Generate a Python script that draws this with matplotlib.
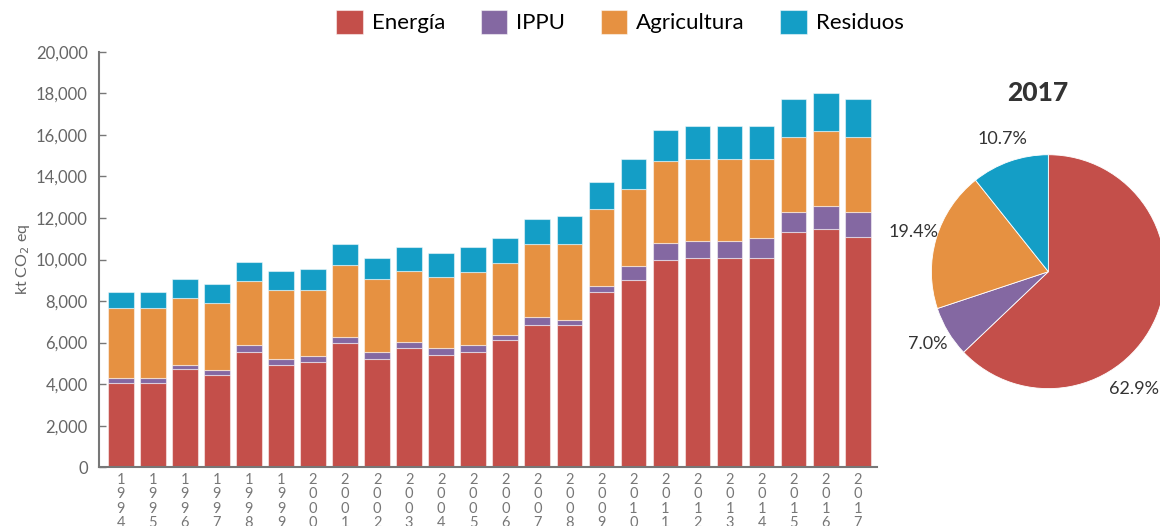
import matplotlib
matplotlib.use("Agg")
import matplotlib.pyplot as plt
import numpy as np

plt.rcParams['font.family'] = ['Lato', 'DejaVu Sans']

years = [str(y) for y in range(1994, 2018)]
energia = [4070, 4070, 4744, 4424, 5561, 4920, 5080, 5963, 5224, 5754, 5417, 5561,
           6124, 6832, 6832, 8450, 9013, 9976, 10087, 10087, 10087, 11338, 11468, 11069]
ippu = [240, 240, 176, 241, 308, 304, 289, 306, 323, 274, 322, 308,
        241, 400, 271, 259, 674, 818, 804, 804, 948, 949, 1093, 1218]
agricultura = [3370, 3370, 3211, 3241, 3081, 3308, 3163, 3466, 3499, 3433, 3418, 3544,
               3481, 3500, 3629, 3708, 3693, 3963, 3962, 3962, 3818, 3611, 3626, 3611]
residuos = [770, 770, 930, 914, 915, 929, 1025, 1011, 1011, 1156, 1140, 1204,
            1204, 1203, 1348, 1329, 1473, 1478, 1559, 1559, 1559, 1830, 1815, 1830]

sectors = ['Energía', 'IPPU', 'Agricultura', 'Residuos']
colors = ['#C44F4A', '#8468A2', '#E69141', '#149EC6']

pie_year = '2017'
pie_shares = [62.9, 7.0, 19.4, 10.7]

fig = plt.figure(figsize=(11.6, 5.26), dpi=100)

# stacked bars
ax = fig.add_axes([0.0853, 0.1118, 0.6707, 0.7897])
x = np.arange(len(years))
series = [energia, ippu, agricultura, residuos]
bottom = np.zeros(len(years))
for vals, col, name in zip(series, colors, sectors):
    ax.bar(x, vals, bottom=bottom, width=0.8, color=col, label=name,
           edgecolor=(1, 1, 1, 0.5), linewidth=0.8)
    bottom += np.array(vals)

ax.set_xlim(-0.68, 23.6)
ax.set_ylim(0, 20000)
ax.set_yticks(np.arange(0, 20001, 2000))
ax.set_yticklabels([f'{v:,}' for v in range(0, 20001, 2000)])
ax.set_xticks(x)
ax.set_xticklabels(['\n'.join(y) for y in years], linespacing=1.05)
ax.tick_params(axis='y', direction='in', length=5, width=1, color='#777777',
               labelsize=12, labelcolor='#666666', pad=8)
ax.tick_params(axis='x', length=0, labelsize=10.5, labelcolor='#777777', pad=4)
for s in ['top', 'right']:
    ax.spines[s].set_visible(False)
for s in ['left', 'bottom']:
    ax.spines[s].set_color('#777777')
    ax.spines[s].set_linewidth(1.5)
ax.set_ylabel('kt CO$_2$ eq', fontsize=11.5, color='#666666', labelpad=3)

fig.legend(loc='center', bbox_to_anchor=(620 / 1160, 1 - 22 / 526), ncol=4,
           frameon=False, fontsize=16, handlelength=1.2, handleheight=1.25,
           handletextpad=0.4, columnspacing=1.6, borderaxespad=0)

# pie for last year
axp = fig.add_axes([0.7727, 0.1945, 0.2621, 0.578])
wedges, texts, autotexts = axp.pie(
    pie_shares, colors=colors, startangle=90, counterclock=False,
    autopct='%.1f%%', pctdistance=1.2,
    wedgeprops=dict(edgecolor='white', linewidth=0.6),
    textprops=dict(fontsize=13, color='#333333'))
axp.set_xlim(-1.3, 1.3)
axp.set_ylim(-1.3, 1.3)
axp.set_aspect('equal')
# the largest share label sits lower on the wedge
big = autotexts[0]
ang = np.deg2rad(-54)
big.set_position((1.24 * np.cos(ang), 1.24 * np.sin(ang)))
fig.text(1038 / 1160, 1 - 93 / 526, pie_year, ha='center', va='center',
         fontsize=19, fontweight='black', color='#333333')

fig.savefig('out.png', dpi=100)
